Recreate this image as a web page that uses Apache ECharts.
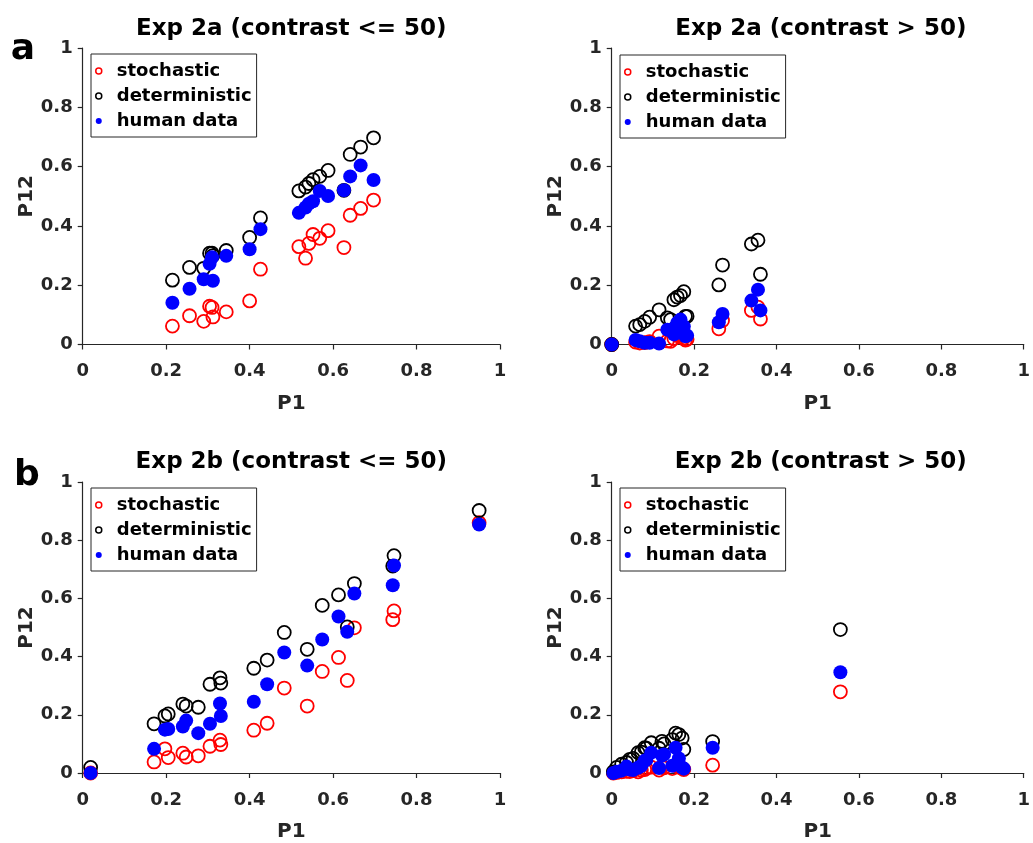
<!DOCTYPE html>
<html>
<head>
<meta charset="utf-8">
<script src="https://cdn.jsdelivr.net/npm/echarts@6/dist/echarts.min.js"></script>
<style>
  html, body { margin: 0; padding: 0; background: #fff; }
  #chart { width: 1033px; height: 843px; }
</style>
</head>
<body>
<div id="chart"></div>
<script>
// Exp 2a, contrast <= 50
const p1_2aLow  = [0.215, 0.256, 0.29, 0.304, 0.31, 0.312, 0.344, 0.40, 0.426, 0.518, 0.534, 0.542, 0.552, 0.568, 0.588, 0.626, 0.641, 0.666, 0.697];
const sto_2aLow = [0.062, 0.097, 0.078, 0.129, 0.125, 0.093, 0.11, 0.147, 0.254, 0.33, 0.291, 0.341, 0.371, 0.358, 0.384, 0.327, 0.436, 0.459, 0.487];
const det_2aLow = [0.217, 0.26, 0.257, 0.308, 0.308, 0.30, 0.317, 0.361, 0.427, 0.518, 0.531, 0.543, 0.556, 0.567, 0.587, 0.52, 0.641, 0.666, 0.697];
const hum_2aLow = [0.141, 0.188, 0.22, 0.272, 0.294, 0.215, 0.299, 0.321, 0.389, 0.444, 0.462, 0.475, 0.483, 0.518, 0.501, 0.52, 0.567, 0.604, 0.555];

// Exp 2a, contrast > 50
const p1_2aHigh  = [0.0, 0.058, 0.068, 0.08, 0.092, 0.115, 0.135, 0.143, 0.151, 0.159, 0.167, 0.175, 0.179, 0.183, 0.26, 0.269, 0.339, 0.355, 0.361];
const sto_2aHigh = [0.0, 0.008, 0.005, 0.006, 0.01, 0.028, 0.012, 0.011, 0.02, 0.03, 0.035, 0.022, 0.015, 0.018, 0.053, 0.081, 0.115, 0.126, 0.086];
const det_2aHigh = [0.0, 0.062, 0.067, 0.078, 0.092, 0.117, 0.09, 0.084, 0.151, 0.16, 0.165, 0.178, 0.095, 0.095, 0.201, 0.268, 0.339, 0.352, 0.237];
const hum_2aHigh = [0.0, 0.015, 0.011, 0.006, 0.006, 0.003, 0.05, 0.05, 0.034, 0.073, 0.084, 0.061, 0.028, 0.03, 0.075, 0.103, 0.148, 0.185, 0.115];

// Exp 2b, contrast <= 50
const p1_2bLow  = [0.019, 0.171, 0.197, 0.205, 0.24, 0.248, 0.277, 0.305, 0.329, 0.331, 0.41, 0.442, 0.483, 0.538, 0.574, 0.613, 0.634, 0.651, 0.743, 0.746, 0.95];
const sto_2bLow = [0.0, 0.038, 0.083, 0.053, 0.068, 0.055, 0.059, 0.092, 0.113, 0.098, 0.147, 0.171, 0.292, 0.23, 0.349, 0.397, 0.318, 0.499, 0.527, 0.557, 0.86];
const det_2bLow = [0.019, 0.169, 0.196, 0.203, 0.237, 0.23, 0.226, 0.305, 0.327, 0.309, 0.36, 0.388, 0.483, 0.425, 0.576, 0.612, 0.502, 0.651, 0.711, 0.747, 0.902];
const hum_2bLow = [0.0, 0.083, 0.149, 0.151, 0.16, 0.18, 0.137, 0.169, 0.239, 0.196, 0.245, 0.305, 0.414, 0.369, 0.459, 0.538, 0.485, 0.617, 0.645, 0.713, 0.854];

// Exp 2b, contrast > 50
const p1_2bHigh  = [0.004, 0.012, 0.024, 0.036, 0.044, 0.052, 0.064, 0.072, 0.08, 0.084, 0.096, 0.115, 0.122, 0.127, 0.147, 0.155, 0.163, 0.171, 0.175, 0.245, 0.555];
const sto_2bHigh = [0.0, 0.002, 0.004, 0.006, 0.005, 0.008, 0.004, 0.01, 0.012, 0.015, 0.02, 0.01, 0.022, 0.018, 0.015, 0.026, 0.02, 0.016, 0.012, 0.027, 0.279];
const det_2bHigh = [0.004, 0.019, 0.03, 0.036, 0.047, 0.05, 0.07, 0.072, 0.087, 0.085, 0.104, 0.085, 0.109, 0.1, 0.115, 0.137, 0.132, 0.12, 0.081, 0.108, 0.493];
const hum_2bHigh = [0.0, 0.004, 0.008, 0.022, 0.012, 0.01, 0.018, 0.025, 0.042, 0.045, 0.07, 0.017, 0.06, 0.064, 0.025, 0.087, 0.05, 0.019, 0.015, 0.087, 0.346];

const seriesNames = ['stochastic', 'deterministic', 'human data'];
const panelTitles = ['Exp 2a (contrast <= 50)', 'Exp 2a (contrast > 50)', 'Exp 2b (contrast <= 50)', 'Exp 2b (contrast > 50)'];
const panelLetters = ['a', 'b'];
const xName = 'P1';
const yName = 'P12';

const panels = [
  { p1: p1_2aLow,  sto: sto_2aLow,  det: det_2aLow,  hum: hum_2aLow },
  { p1: p1_2aHigh, sto: sto_2aHigh, det: det_2aHigh, hum: hum_2aHigh },
  { p1: p1_2bLow,  sto: sto_2bLow,  det: det_2bLow,  hum: hum_2bLow },
  { p1: p1_2bHigh, sto: sto_2bHigh, det: det_2bHigh, hum: hum_2bHigh }
];

const FONT = 'DejaVu Sans';
const AX = '#262626';

const grids = [
  { left: 82.7,  top: 48,  width: 417.3, height: 296.5 },
  { left: 611.7, top: 48,  width: 418.3, height: 296.5 },
  { left: 82.7,  top: 482, width: 417.3, height: 295.3 },
  { left: 611.7, top: 482, width: 418.3, height: 295.3 }
];

function axisCommon(isX) {
  return {
    min: 0, max: 1, interval: 0.2,
    axisLine: { show: true, lineStyle: { color: AX, width: 1.2 } },
    axisTick: { show: true, inside: false, length: 5, lineStyle: { color: AX, width: 1.2 } },
    splitLine: { show: false },
    axisLabel: {
      color: AX, fontFamily: FONT, fontWeight: 'bold', fontSize: 18,
      margin: isX ? 18 : 10, showMinLabel: true, showMaxLabel: true, hideOverlap: false
    },
    name: isX ? xName : yName,
    nameLocation: 'middle',
    nameGap: isX ? 49 : 45,
    nameRotate: isX ? 0 : 90,
    nameTextStyle: { color: AX, fontFamily: FONT, fontWeight: 'bold', fontSize: 20 }
  };
}

const xAxes = [], yAxes = [], series = [], legends = [];
const legendPos = [
  { left: 91, top: 54 }, { left: 620, top: 55 },
  { left: 91, top: 488 }, { left: 620, top: 488 }
];

panels.forEach((p, i) => {
  xAxes.push(Object.assign({ type: 'value', gridIndex: i }, axisCommon(true)));
  yAxes.push(Object.assign({ type: 'value', gridIndex: i }, axisCommon(false)));
  const pts = arr => p.p1.map((x, k) => [x, arr[k]]);
  series.push({
    name: seriesNames[0], type: 'scatter', xAxisIndex: i, yAxisIndex: i, clip: false,
    symbol: 'circle', symbolSize: 13, data: pts(p.sto),
    itemStyle: { color: 'rgba(255,255,255,0)', borderColor: '#ff0000', borderWidth: 1.8, opacity: 1 },
    emphasis: { disabled: true }
  });
  series.push({
    name: seriesNames[1], type: 'scatter', xAxisIndex: i, yAxisIndex: i, clip: false,
    symbol: 'circle', symbolSize: 13, data: pts(p.det),
    itemStyle: { color: 'rgba(255,255,255,0)', borderColor: '#000000', borderWidth: 1.8, opacity: 1 },
    emphasis: { disabled: true }
  });
  series.push({
    name: seriesNames[2], type: 'scatter', xAxisIndex: i, yAxisIndex: i, clip: false,
    symbol: 'circle', symbolSize: 14, data: pts(p.hum),
    itemStyle: { color: '#0000ff', borderWidth: 0, opacity: 1 },
    emphasis: { disabled: true }
  });
  legends.push({
    left: legendPos[i].left, top: legendPos[i].top,
    orient: 'vertical',
    selectedMode: false,
    backgroundColor: '#ffffff',
    borderColor: AX, borderWidth: 1,
    padding: [8, 5, 7, 4],
    itemWidth: 26, itemHeight: 6, itemGap: 7,
    textStyle: { color: '#000', fontFamily: FONT, fontWeight: 'bold', fontSize: 18 },
    data: [
      { name: seriesNames[0], icon: 'circle', itemStyle: { color: '#ffffff', borderColor: '#ff0000', borderWidth: 1.5, opacity: 1 } },
      { name: seriesNames[1], icon: 'circle', itemStyle: { color: '#ffffff', borderColor: '#000000', borderWidth: 1.5, opacity: 1 } },
      { name: seriesNames[2], icon: 'circle', itemStyle: { color: '#0000ff', borderWidth: 0, opacity: 1 } }
    ]
  });
});

const titleCenters = [
  { x: 291.3, y: 29 }, { x: 820.8, y: 29 },
  { x: 291.3, y: 462 }, { x: 820.8, y: 462 }
];
const graphics = panelTitles.map((t, i) => ({
  type: 'text', x: titleCenters[i].x, y: titleCenters[i].y,
  style: { text: t, fill: '#000', font: 'bold 23px "' + FONT + '"', textAlign: 'center', textVerticalAlign: 'middle' }
}));
graphics.push({
  type: 'text', x: 23, y: 50,
  style: { text: panelLetters[0], fill: '#000', font: 'bold 36px "' + FONT + '"', textAlign: 'center', textVerticalAlign: 'middle' }
});
graphics.push({
  type: 'text', x: 27, y: 476,
  style: { text: panelLetters[1], fill: '#000', font: 'bold 36px "' + FONT + '"', textAlign: 'center', textVerticalAlign: 'middle' }
});

const chart = echarts.init(document.getElementById('chart'), null, { renderer: 'canvas' });
chart.setOption({
  animation: false,
  backgroundColor: '#ffffff',
  grid: grids,
  xAxis: xAxes,
  yAxis: yAxes,
  legend: legends,
  series: series,
  graphic: graphics
});
</script>
</body>
</html>
